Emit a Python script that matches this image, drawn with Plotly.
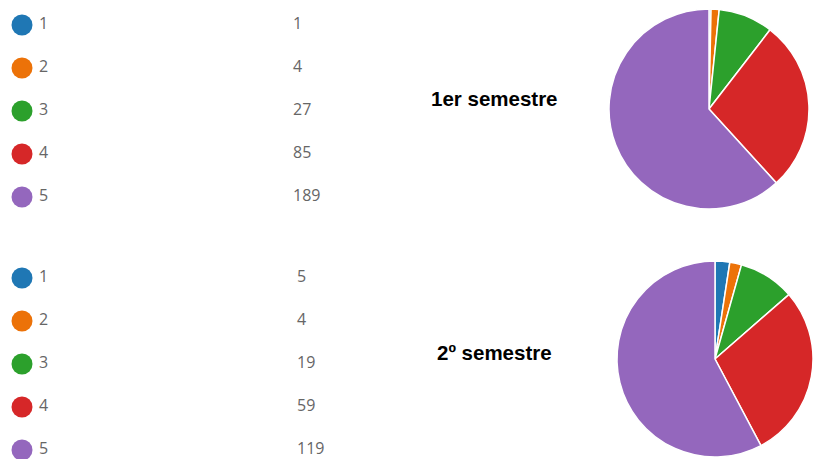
import plotly.graph_objects as go

categories = ["1", "2", "3", "4", "5"]
counts_s1 = [1, 4, 27, 85, 189]
counts_s2 = [5, 4, 19, 59, 119]
titles = ["1er semestre", "2º semestre"]
colors = ["#1f77b4", "#ec7208", "#2ca02c", "#d62728", "#9467bd"]

W, H = 813, 459
fig = go.Figure()

groups = [
    dict(counts=counts_s1, top=25, count_x=297, title_y=98,
         dom_x=[609 / W, 809 / W], dom_y=[1 - 209 / H, 1 - 9 / H]),
    dict(counts=counts_s2, top=278, count_x=301, title_y=352,
         dom_x=[617 / W, 1.0], dom_y=[0.0, 1 - 259 / H]),
]
row_gap = 43
label_font = dict(family="Open Sans", size=16, color="#666666")

for g, title in zip(groups, titles):
    ys = [g["top"] + i * row_gap for i in range(len(categories))]
    fig.add_trace(go.Scatter(
        x=[22] * len(categories), y=ys, mode="markers",
        marker=dict(size=21, color=colors, line=dict(width=0)),
        hoverinfo="skip", showlegend=False, xaxis="x", yaxis="y"))
    fig.add_trace(go.Scatter(
        x=[39] * len(categories), y=ys, mode="text", text=categories,
        textposition="middle right", textfont=label_font,
        hoverinfo="skip", showlegend=False))
    fig.add_trace(go.Scatter(
        x=[g["count_x"] - 4] * len(categories), y=ys, mode="text",
        text=[str(v) for v in g["counts"]],
        textposition="middle right", textfont=label_font,
        hoverinfo="skip", showlegend=False))
    fig.add_annotation(x=494, y=g["title_y"], xref="x", yref="y",
                       text="<b>%s</b>" % title, showarrow=False,
                       font=dict(family="Liberation Sans", size=20.5, color="#000000"))
    fig.add_trace(go.Pie(
        labels=categories, values=g["counts"], sort=False,
        direction="clockwise", rotation=0,
        marker=dict(colors=colors, line=dict(color="#ffffff", width=1.5)),
        textinfo="none", hoverinfo="skip", showlegend=False,
        domain=dict(x=g["dom_x"], y=g["dom_y"])))

fig.update_layout(
    width=W, height=H, margin=dict(l=0, r=0, t=0, b=0),
    paper_bgcolor="#ffffff", plot_bgcolor="#ffffff",
    xaxis=dict(range=[0, W], visible=False, fixedrange=True),
    yaxis=dict(range=[H, 0], visible=False, fixedrange=True),
    showlegend=False,
)

fig.write_html("out.html", config={"displayModeBar": False},
               post_script="document.body.style.margin='0';document.body.style.overflow='hidden';")
